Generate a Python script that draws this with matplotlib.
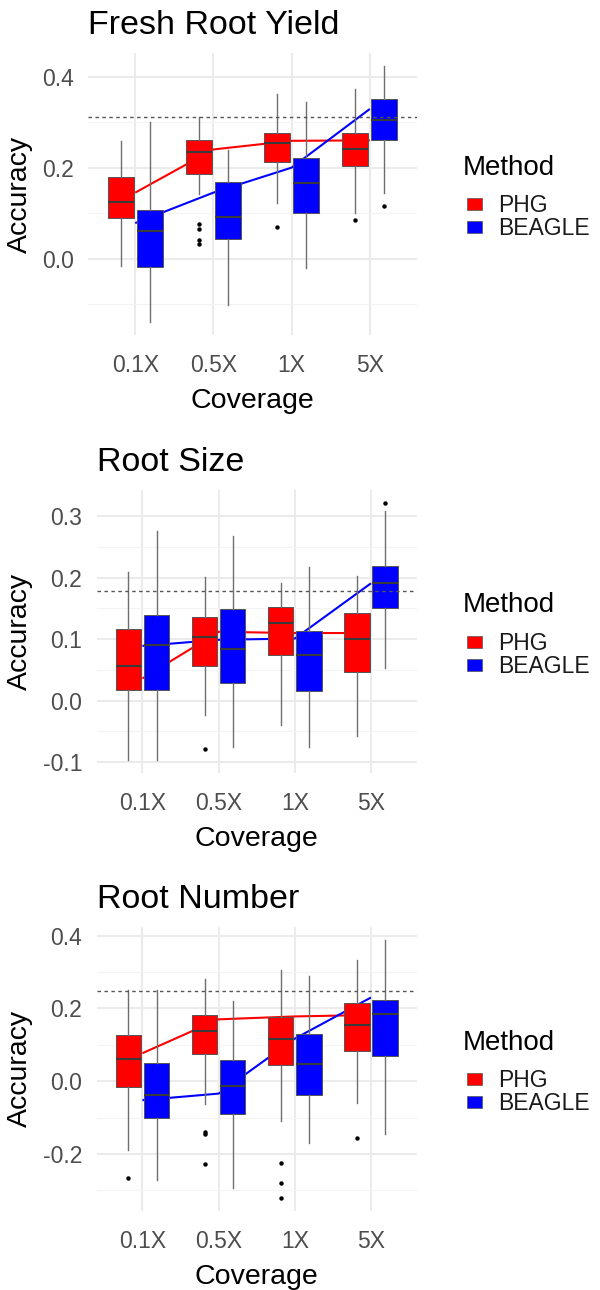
import numpy as np
import matplotlib
matplotlib.use('Agg')
import matplotlib.pyplot as plt
from matplotlib.patches import Rectangle

plt.rcParams['font.family'] = ['Liberation Sans', 'DejaVu Sans']

# ---------------- data ----------------
coverage = ['0.1X', '0.5X', '1X', '5X']
methods = ['PHG', 'BEAGLE']
method_colors = ['#FF0000', '#0000FF']
traits = ['Fresh Root Yield', 'Root Size', 'Root Number']

# Fresh Root Yield
fry_phg_lo = [-0.017, 0.142, 0.123, 0.100]
fry_phg_q1 = [0.089, 0.185, 0.213, 0.203]
fry_phg_med = [0.124, 0.235, 0.254, 0.242]
fry_phg_q3 = [0.179, 0.260, 0.277, 0.276]
fry_phg_hi = [0.258, 0.311, 0.361, 0.374]
fry_phg_out = [[], [0.075, 0.065, 0.041, 0.031], [0.069], [0.084]]
fry_phg_mean = [0.145, 0.240, 0.259, 0.260]
fry_bgl_lo = [-0.140, -0.103, -0.020, 0.145]
fry_bgl_q1 = [-0.018, 0.043, 0.101, 0.261]
fry_bgl_med = [0.060, 0.091, 0.167, 0.304]
fry_bgl_q3 = [0.107, 0.168, 0.222, 0.352]
fry_bgl_hi = [0.300, 0.238, 0.344, 0.424]
fry_bgl_out = [[], [], [], [0.115]]
fry_bgl_mean = [0.078, 0.145, 0.200, 0.329]
fry_ref = 0.311

# Root Size
rs_phg_lo = [-0.097, -0.023, -0.039, -0.058]
rs_phg_q1 = [0.018, 0.056, 0.074, 0.046]
rs_phg_med = [0.056, 0.103, 0.127, 0.100]
rs_phg_q3 = [0.116, 0.136, 0.152, 0.142]
rs_phg_hi = [0.210, 0.202, 0.192, 0.203]
rs_phg_out = [[], [-0.079], [], []]
rs_phg_mean = [0.036, 0.112, 0.110, 0.110]
rs_bgl_lo = [-0.097, -0.076, -0.076, 0.053]
rs_bgl_q1 = [0.017, 0.028, 0.015, 0.150]
rs_bgl_med = [0.090, 0.084, 0.075, 0.192]
rs_bgl_q3 = [0.140, 0.149, 0.113, 0.219]
rs_bgl_hi = [0.276, 0.268, 0.217, 0.309]
rs_bgl_out = [[], [], [], [0.322]]
rs_bgl_mean = [0.089, 0.099, 0.101, 0.191]
rs_ref = 0.179

# Root Number
rn_phg_lo = [-0.188, -0.063, -0.109, -0.060]
rn_phg_q1 = [-0.016, 0.074, 0.044, 0.083]
rn_phg_med = [0.060, 0.138, 0.115, 0.154]
rn_phg_q3 = [0.126, 0.183, 0.177, 0.215]
rn_phg_hi = [0.250, 0.280, 0.306, 0.333]
rn_phg_out = [[-0.265], [-0.139, -0.145, -0.228], [-0.224, -0.280, -0.321], [-0.156]]
rn_phg_mean = [0.077, 0.170, 0.178, 0.182]
rn_bgl_lo = [-0.271, -0.293, -0.170, -0.146]
rn_bgl_q1 = [-0.101, -0.090, -0.039, 0.069]
rn_bgl_med = [-0.038, -0.013, 0.047, 0.184]
rn_bgl_q3 = [0.050, 0.059, 0.131, 0.223]
rn_bgl_hi = [0.250, 0.220, 0.290, 0.389]
rn_bgl_out = [[], [], [], []]
rn_bgl_mean = [-0.052, -0.034, 0.117, 0.230]
rn_ref = 0.249

panels = [
    dict(title=traits[0], ref=fry_ref,
         major=[0.0, 0.2, 0.4], minor=[-0.1, 0.1, 0.3],
         series=[(fry_phg_lo, fry_phg_q1, fry_phg_med, fry_phg_q3, fry_phg_hi, fry_phg_out, fry_phg_mean),
                 (fry_bgl_lo, fry_bgl_q1, fry_bgl_med, fry_bgl_q3, fry_bgl_hi, fry_bgl_out, fry_bgl_mean)]),
    dict(title=traits[1], ref=rs_ref,
         major=[-0.1, 0.0, 0.1, 0.2, 0.3], minor=[-0.05, 0.05, 0.15, 0.25],
         series=[(rs_phg_lo, rs_phg_q1, rs_phg_med, rs_phg_q3, rs_phg_hi, rs_phg_out, rs_phg_mean),
                 (rs_bgl_lo, rs_bgl_q1, rs_bgl_med, rs_bgl_q3, rs_bgl_hi, rs_bgl_out, rs_bgl_mean)]),
    dict(title=traits[2], ref=rn_ref,
         major=[-0.2, 0.0, 0.2, 0.4], minor=[-0.3, -0.1, 0.1, 0.3],
         series=[(rn_phg_lo, rn_phg_q1, rn_phg_med, rn_phg_q3, rn_phg_hi, rn_phg_out, rn_phg_mean),
                 (rn_bgl_lo, rn_bgl_q1, rn_bgl_med, rn_bgl_q3, rn_bgl_hi, rn_bgl_out, rn_bgl_mean)]),
]

# ---------------- layout (pixels) ----------------
W, H = 600, 1290
fig = plt.figure(figsize=(W / 100, H / 100), dpi=100)
fig.patch.set_facecolor('white')

# left, top, right, bottom of each panel
boxes_px = [(88.3, 53, 416.7, 335), (96.7, 490, 416.7, 773), (96.7, 926.7, 416.7, 1211)]

def fx(x):
    return x / W

def fy(y):
    return 1 - y / H

grid_major = '#EBEBEB'
grid_minor = '#F3F3F3'
offsets = [-0.185, 0.185]
bw = 0.335

for p, (l, t, r, b) in zip(panels, boxes_px):
    ax = fig.add_axes([fx(l), fy(b), (r - l) / W, (b - t) / H])
    for s in ax.spines.values():
        s.set_visible(False)
    ax.set_facecolor('white')

    # y range like ggplot (5% expansion)
    vals = []
    for ser in p['series']:
        vals += list(ser[0]) + list(ser[4])
        for o in ser[5]:
            vals += list(o)
    lo, hi = min(vals), max(vals)
    pad = 0.05 * (hi - lo)
    ax.set_ylim(lo - pad, hi + pad)
    ax.set_xlim(0.4, 4.6)

    xs = np.arange(1, len(coverage) + 1)
    ax.set_xticks(xs)
    ax.set_xticklabels(coverage)
    ax.set_yticks(p['major'])
    ax.set_yticklabels([f"{v:.1f}" for v in p['major']])
    ax.set_yticks(p['minor'], minor=True)
    ax.tick_params(axis='both', which='both', length=0)
    ax.tick_params(axis='x', pad=13.5, labelsize=16.5, labelcolor='#4D4D4D')
    ax.tick_params(axis='y', pad=10.5, labelsize=16.5, labelcolor='#4D4D4D')
    ax.grid(True, which='major', color=grid_major, lw=1.5)
    ax.grid(True, which='minor', axis='y', color=grid_minor, lw=0.8)
    ax.set_axisbelow(True)

    # mean lines (behind boxes)
    for ser, col in zip(p['series'], method_colors):
        ax.plot(xs, ser[6], color=col, lw=1.5, zorder=1.5, solid_capstyle='butt')

    # boxplots
    for ser, col, off in zip(p['series'], method_colors, offsets):
        stats = []
        for i in range(len(coverage)):
            stats.append(dict(whislo=ser[0][i], q1=ser[1][i], med=ser[2][i],
                              q3=ser[3][i], whishi=ser[4][i], fliers=ser[5][i]))
        ax.bxp(stats, positions=xs + off, widths=bw, patch_artist=True,
               showcaps=False, manage_ticks=False,
               boxprops=dict(facecolor=col, edgecolor='#555555', lw=0.7),
               whiskerprops=dict(color='#6E6E6E', lw=1.0),
               medianprops=dict(color='#3A3A3A', lw=1.5),
               flierprops=dict(marker='o', markerfacecolor='black', markeredgecolor='black',
                               markersize=3.2, markeredgewidth=0),
               zorder=2)

    # reference line
    ax.axhline(p['ref'], color='#555555', lw=1.0, ls=(0, (2.5, 2.5)), zorder=4)

    # titles & axis labels
    fig.text(fx(l), fy(t - 19), p['title'], fontsize=24.5, ha='left', va='baseline', color='black')
    fig.text(fx((l + r) / 2), fy(b + 73), 'Coverage', fontsize=20.5, ha='center',
             va='baseline', color='black')
    fig.text(fx(20), fy((t + b) / 2), 'Accuracy', fontsize=20.5, rotation=90,
             ha='center', va='center', color='black')

    # legend
    c = (t + b) / 2
    fig.text(fx(463), fy(c - 29 + 10), 'Method', fontsize=20, ha='left', va='baseline',
             color='black')
    for k, (m, col) in enumerate(zip(methods, method_colors)):
        yc = c + 10 + 23 * k
        fig.add_artist(Rectangle((fx(466.5), fy(yc + 6)), 15 / W, 12 / H,
                                 transform=fig.transFigure, facecolor=col,
                                 edgecolor='#555555', lw=0.5))
        fig.text(fx(498), fy(yc + 8.2), m, fontsize=16.5, ha='left', va='baseline',
                 color='#1A1A1A')

fig.savefig('out.png', dpi=100, facecolor='white')
